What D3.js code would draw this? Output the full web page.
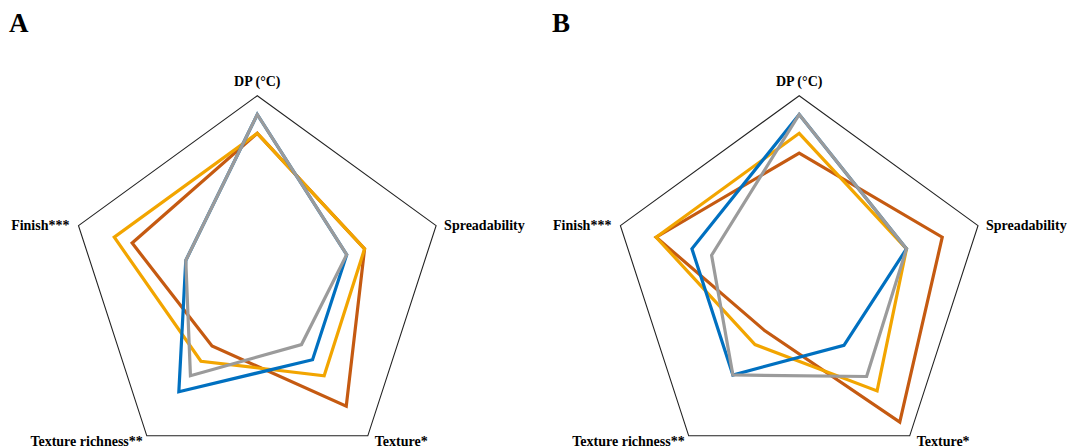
<!DOCTYPE html>
<html lang="en">
	<head>
		<meta charset="utf-8">
		<title>D3: radar charts</title>
		<script src="https://d3js.org/d3.v7.min.js"></script>
		<style type="text/css">
			body { margin: 0; background: #fff; }
			text { font-family: "Liberation Serif", "Times New Roman", serif; font-weight: bold; fill: #000; }
		</style>
	</head>
	<body>
		<script type="text/javascript">
		// attributes (clockwise from the top)
		var axes = ["DP (°C)", "Spreadability", "Texture*", "Texture richness**", "Finish***"];

		// panel A values (0-10 scale)
		var redA    = [8.0, 6.0, 8.05, 4.1, 7.0];
		var orangeA = [8.0, 6.0, 6.05, 5.1, 8.0];
		var blueA   = [9.0, 5.0, 5.0, 7.1, 4.0];
		var grayA   = [9.0, 5.0, 4.0, 6.05, 4.0];

		// panel B values
		var redB    = [6.95, 8.0, 9.1, 3.1, 8.0];
		var orangeB = [8.0, 6.0, 7.05, 4.0, 8.0];
		var blueB   = [9.0, 6.0, 4.05, 6.0, 6.0];
		var grayB   = [9.0, 6.0, 6.1, 6.0, 4.9];

		var maxValue = 10;
		var colors = ["#C55A11", "#F2A500", "#0070C0", "#9B9B9B"];

		var width = 1071, height = 448;
		var R = 188;

		var svg = d3.select("body")
			.append("svg")
			.attr("width", width)
			.attr("height", height);

		var r = d3.scaleLinear().domain([0, maxValue]).range([0, R]);

		var angle = function(i){ return i * 2 * Math.PI / axes.length; };

		var radar = d3.lineRadial()
			.angle(function(d, i){ return angle(i); })
			.radius(function(d){ return r(d); })
			.curve(d3.curveLinearClosed);

		// label offsets per axis: dx, dy, anchor
		var labelPos = [
			{dx: 0, dy: -10, anchor: "middle"},
			{dx: 8, dy: 4, anchor: "start"},
			{dx: 7, dy: 10, anchor: "start"},
			{dx: -4, dy: 10, anchor: "end"},
			{dx: -9, dy: 4, anchor: "end"}
		];

		function drawPanel(cx, cy, letter, lx, series){
			var g = svg.append("g")
				.attr("transform", "translate(" + cx + "," + cy + ")");

			// outer frame
			g.append("path")
				.attr("d", radar(axes.map(function(){ return maxValue; })))
				.attr("fill", "none")
				.attr("stroke", "#222")
				.attr("stroke-width", 1.1);

			g.selectAll("path.series")
				.data(series)
				.enter()
				.append("path")
				.attr("class", "series")
				.attr("d", function(d){ return radar(d); })
				.attr("fill", "none")
				.attr("stroke", function(d, i){ return colors[i]; })
				.attr("stroke-width", 3.2)
				.attr("stroke-linejoin", "miter");

			g.selectAll("text.axis")
				.data(axes)
				.enter()
				.append("text")
				.attr("class", "axis")
				.attr("x", function(d, i){ return r(maxValue) * Math.sin(angle(i)) + labelPos[i].dx; })
				.attr("y", function(d, i){ return -r(maxValue) * Math.cos(angle(i)) + labelPos[i].dy; })
				.attr("text-anchor", function(d, i){ return labelPos[i].anchor; })
				.style("font-size", "14px")
				.text(function(d){ return d; });

			svg.append("text")
				.attr("x", lx)
				.attr("y", 32)
				.style("font-size", "27px")
				.text(letter);
		}

		drawPanel(257.3, 283.7, "A", 9, [redA, orangeA, blueA, grayA]);
		drawPanel(799.2, 283.7, "B", 552, [redB, orangeB, blueB, grayB]);
		</script>
	</body>
</html>
